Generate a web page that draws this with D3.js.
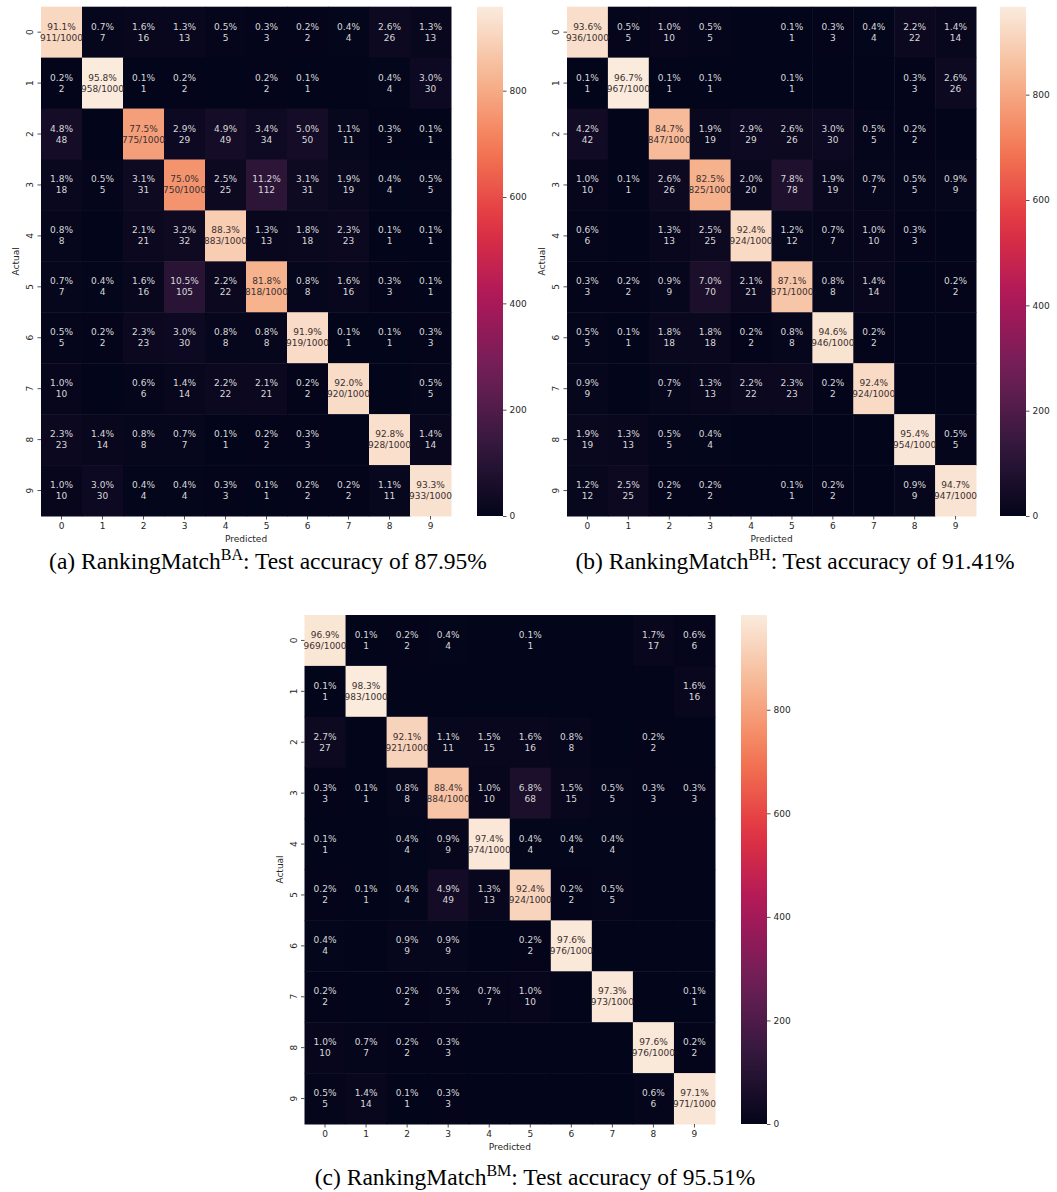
<!DOCTYPE html>
<html>
<head>
<meta charset="utf-8">
<script src="https://cdn.jsdelivr.net/npm/d3@7"></script>
<style>
  body { margin: 0; background: #fff; }
  svg { display: block; }
</style>
</head>
<body>
<svg id="chart" width="1057" height="1192"></svg>
<script>
// Class labels (digits) for both axes
const classes = ['0', '1', '2', '3', '4', '5', '6', '7', '8', '9'];

// Confusion matrices, rows = actual, columns = predicted (1000 samples per class)
const matrixBA = [
    [911, 7, 16, 13, 5, 3, 2, 4, 26, 13],
    [2, 958, 1, 2, 0, 2, 1, 0, 4, 30],
    [48, 0, 775, 29, 49, 34, 50, 11, 3, 1],
    [18, 5, 31, 750, 25, 112, 31, 19, 4, 5],
    [8, 0, 21, 32, 883, 13, 18, 23, 1, 1],
    [7, 4, 16, 105, 22, 818, 8, 16, 3, 1],
    [5, 2, 23, 30, 8, 8, 919, 1, 1, 3],
    [10, 0, 6, 14, 22, 21, 2, 920, 0, 5],
    [23, 14, 8, 7, 1, 2, 3, 0, 928, 14],
    [10, 30, 4, 4, 3, 1, 2, 2, 11, 933]
];

const matrixBH = [
    [936, 5, 10, 5, 0, 1, 3, 4, 22, 14],
    [1, 967, 1, 1, 0, 1, 0, 0, 3, 26],
    [42, 0, 847, 19, 29, 26, 30, 5, 2, 0],
    [10, 1, 26, 825, 20, 78, 19, 7, 5, 9],
    [6, 0, 13, 25, 924, 12, 7, 10, 3, 0],
    [3, 2, 9, 70, 21, 871, 8, 14, 0, 2],
    [5, 1, 18, 18, 2, 8, 946, 2, 0, 0],
    [9, 0, 7, 13, 22, 23, 2, 924, 0, 0],
    [19, 13, 5, 4, 0, 0, 0, 0, 954, 5],
    [12, 25, 2, 2, 0, 1, 2, 0, 9, 947]
];

const matrixBM = [
    [969, 1, 2, 4, 0, 1, 0, 0, 17, 6],
    [1, 983, 0, 0, 0, 0, 0, 0, 0, 16],
    [27, 0, 921, 11, 15, 16, 8, 0, 2, 0],
    [3, 1, 8, 884, 10, 68, 15, 5, 3, 3],
    [1, 0, 4, 9, 974, 4, 4, 4, 0, 0],
    [2, 1, 4, 49, 13, 924, 2, 5, 0, 0],
    [4, 0, 9, 9, 0, 2, 976, 0, 0, 0],
    [2, 0, 2, 5, 7, 10, 0, 973, 0, 1],
    [10, 7, 2, 3, 0, 0, 0, 0, 976, 2],
    [5, 14, 1, 3, 0, 0, 0, 0, 6, 971]
];

const colorbarTicks = [0, 200, 400, 600, 800];
const samplesPerClass = 1000;

// caption pieces: label, superscript, accuracy text
const captions = [
    ['(a) RankingMatch', 'BA', ': Test accuracy of 87.95%'],
    ['(b) RankingMatch', 'BH', ': Test accuracy of 91.41%'],
    ['(c) RankingMatch', 'BM', ': Test accuracy of 95.51%']
];

// seaborn "rocket" colormap, sampled
const rocket = ['#03051a', '#35193e', '#701f57', '#ad1759', '#e13342', '#f37651', '#f6b48f', '#faebdd'];

const svg = d3.select('#chart');
const tickColor = '#262626';

function luminance(c) {
    const rgb = d3.rgb(c);
    const lin = v => {
        v = v / 255;
        return v <= 0.03928 ? v / 12.92 : Math.pow((v + 0.055) / 1.055, 2.4);
    };
    return 0.2126 * lin(rgb.r) + 0.7152 * lin(rgb.g) + 0.0722 * lin(rgb.b);
}

function drawPanel(matrix, caption, layout, idx) {
    const g = svg.append('g');
    const vmax = d3.max(matrix.flat());

    const x = d3.scaleBand().domain(classes).range([layout.left, layout.right]);
    const y = d3.scaleBand().domain(classes).range([layout.top, layout.bottom]);
    const color = d3.scaleSequential(d3.piecewise(d3.interpolateRgb, rocket)).domain([0, vmax]);

    const cells = [];
    matrix.forEach((row, i) => row.forEach((v, j) => cells.push({ i, j, v })));

    g.selectAll('rect.cell')
        .data(cells)
        .enter()
        .append('rect')
        .attr('class', 'cell')
        .attr('x', d => x(classes[d.j]))
        .attr('y', d => y(classes[d.i]))
        .attr('width', x.bandwidth() + 0.5)
        .attr('height', y.bandwidth() + 0.5)
        .attr('fill', d => color(d.v));

    // annotations: percent on first line, count (or count/1000 on diagonal) on second
    const ann = g.selectAll('text.ann')
        .data(cells.filter(d => d.v > 0))
        .enter()
        .append('text')
        .attr('class', 'ann')
        .attr('text-anchor', 'middle')
        .attr('font-family', 'DejaVu Sans, sans-serif')
        .attr('font-size', 9)
        .attr('fill', d => luminance(color(d.v)) > 0.408 ? '#3a3030' : '#d8d8d8');

    ann.append('tspan')
        .attr('x', d => x(classes[d.j]) + x.bandwidth() / 2)
        .attr('y', d => y(classes[d.i]) + y.bandwidth() / 2 - 5.5)
        .attr('dominant-baseline', 'central')
        .text(d => (d.v / samplesPerClass * 100).toFixed(1) + '%');

    ann.append('tspan')
        .attr('x', d => x(classes[d.j]) + x.bandwidth() / 2)
        .attr('y', d => y(classes[d.i]) + y.bandwidth() / 2 + 5.5)
        .attr('dominant-baseline', 'central')
        .text(d => d.i === d.j ? d.v + '/' + samplesPerClass : d.v);

    // x axis
    const xAxis = g.append('g')
        .attr('transform', `translate(0,${layout.bottom})`)
        .call(d3.axisBottom(x).tickSize(3.5).tickPadding(3));
    xAxis.select('.domain').remove();

    // y axis (labels rotated like seaborn)
    const yAxis = g.append('g')
        .attr('transform', `translate(${layout.left},0)`)
        .call(d3.axisLeft(y).tickSize(3.5).tickPadding(3));
    yAxis.select('.domain').remove();
    yAxis.selectAll('.tick text')
        .attr('text-anchor', 'middle')
        .attr('dy', null)
        .attr('dominant-baseline', 'central')
        .attr('x', -11)
        .attr('transform', 'rotate(-90,-11,0)');

    [xAxis, yAxis].forEach(a => {
        a.selectAll('text').attr('font-family', 'DejaVu Sans, sans-serif').attr('font-size', 9).attr('fill', tickColor);
        a.selectAll('line').attr('stroke', tickColor).attr('stroke-width', 0.8);
    });

    g.append('text')
        .attr('x', (layout.left + layout.right) / 2)
        .attr('y', layout.bottom + 23)
        .attr('text-anchor', 'middle')
        .attr('dominant-baseline', 'central')
        .attr('font-family', 'DejaVu Sans, sans-serif')
        .attr('font-size', 9)
        .attr('fill', tickColor)
        .text('Predicted');

    const ay = (layout.top + layout.bottom) / 2;
    g.append('text')
        .attr('transform', `translate(${layout.left - 25},${ay}) rotate(-90)`)
        .attr('text-anchor', 'middle')
        .attr('dominant-baseline', 'central')
        .attr('font-family', 'DejaVu Sans, sans-serif')
        .attr('font-size', 9)
        .attr('fill', tickColor)
        .text('Actual');

    // colorbar
    const gradId = 'grad' + idx;
    const grad = svg.append('defs').append('linearGradient')
        .attr('id', gradId)
        .attr('x1', 0).attr('y1', 1).attr('x2', 0).attr('y2', 0);
    d3.range(0, 1.0001, 0.05).forEach(t => {
        grad.append('stop').attr('offset', t).attr('stop-color', color(t * vmax));
    });

    const cb = d3.scaleLinear().domain([0, vmax]).range([layout.bottom, layout.top]);
    g.append('rect')
        .attr('x', layout.cbLeft)
        .attr('y', layout.top)
        .attr('width', layout.cbWidth)
        .attr('height', layout.bottom - layout.top)
        .attr('fill', `url(#${gradId})`);

    const cbAxis = g.append('g')
        .attr('transform', `translate(${layout.cbLeft + layout.cbWidth},0)`)
        .call(d3.axisRight(cb).tickValues(colorbarTicks).tickSize(3.5).tickPadding(3));
    cbAxis.select('.domain').remove();
    cbAxis.selectAll('text').attr('font-family', 'DejaVu Sans, sans-serif').attr('font-size', 9).attr('fill', tickColor);
    cbAxis.selectAll('line').attr('stroke', tickColor).attr('stroke-width', 0.8);

    // caption with superscript
    const cap = svg.append('text')
        .attr('x', layout.capX)
        .attr('y', layout.capY)
        .attr('text-anchor', 'middle')
        .attr('font-family', 'Liberation Serif, Times New Roman, serif')
        .attr('font-size', 23.5)
        .attr('fill', '#000');
    cap.append('tspan').text(caption[0]);
    cap.append('tspan').attr('dy', -9).attr('font-size', 16).text(caption[1]);
    cap.append('tspan').attr('dy', 9).text(caption[2]);
}

drawPanel(matrixBA, captions[0], {
    left: 41, right: 451, top: 6.7, bottom: 516,
    cbLeft: 477, cbWidth: 26, capX: 268, capY: 569
}, 0);

drawPanel(matrixBH, captions[1], {
    left: 567, right: 976, top: 6.7, bottom: 516,
    cbLeft: 1000, cbWidth: 26, capX: 795, capY: 569
}, 1);

drawPanel(matrixBM, captions[2], {
    left: 304.5, right: 715, top: 615, bottom: 1124,
    cbLeft: 741, cbWidth: 26, capX: 535, capY: 1185
}, 2);
</script>
</body>
</html>
